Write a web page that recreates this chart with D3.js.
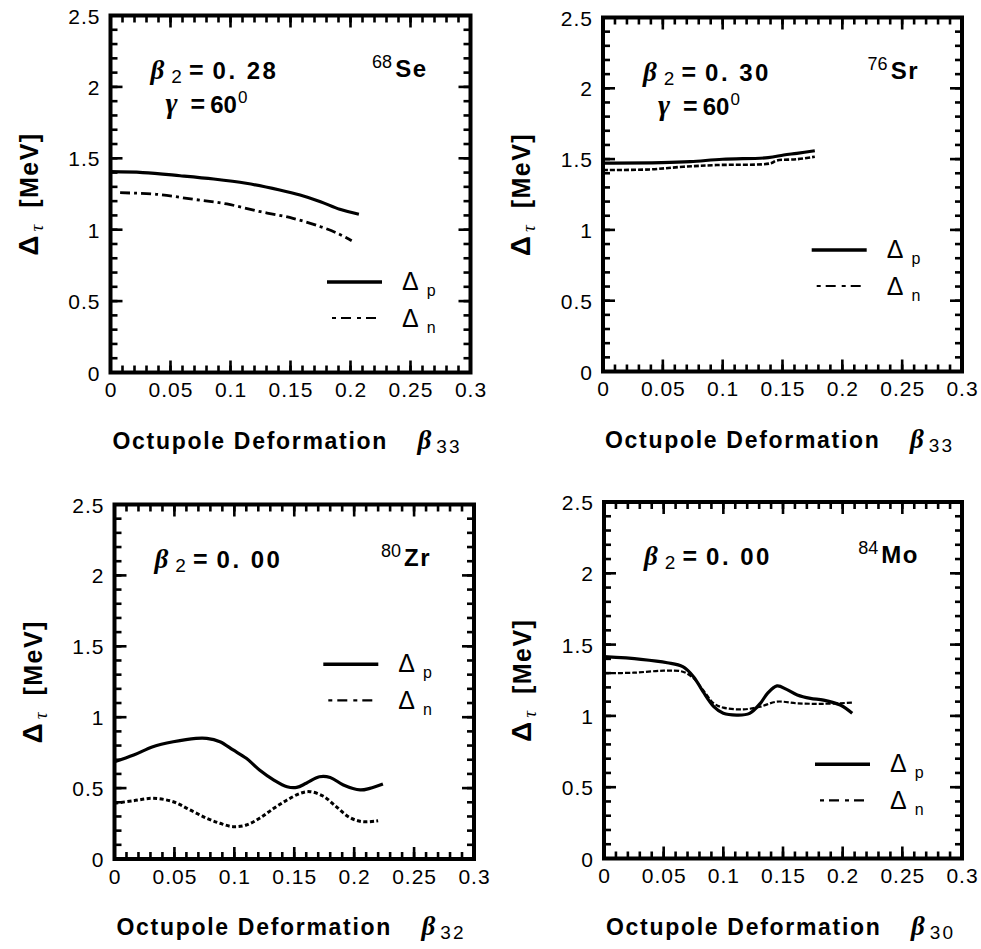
<!DOCTYPE html>
<html>
<head>
<meta charset="utf-8">
<script src="https://cdn.jsdelivr.net/npm/d3@7"></script>
<style>
  html, body { margin: 0; padding: 0; background: #fff; }
  svg { display: block; }
</style>
</head>
<body>
<svg id="chart" width="981" height="949"></svg>
<script>
// Axis ticks and labels shared by all four panels
const xMajorTicks = [0, 0.05, 0.1, 0.15, 0.2, 0.25, 0.3];
const xTickLabels = ["0", "0.05", "0.1", "0.15", "0.2", "0.25", "0.3"];
const yMajorTicks = [0, 0.5, 1, 1.5, 2, 2.5];
const yTickLabels = ["0", "0.5", "1", "1.5", "2", "2.5"];
const xMinorTicks = d3.range(0, 31).map(i => i / 100);
const yMinorTicks = d3.range(0, 26).map(i => i / 10);

// Panel annotations
const massNumbers = ["68", "76", "80", "84"];
const nuclei = ["Se", "Sr", "Zr", "Mo"];
const beta2Values = ["0. 28", "0. 30", "0. 00", "0. 00"];
const gammaValues = ["60", "60", null, null];
const octupoleIndices = ["33", "33", "32", "30"];

// Pairing gaps [beta, MeV] — 68Se
const se68Proton = [[0, 1.406], [0.027, 1.400], [0.058, 1.378], [0.086, 1.355], [0.113, 1.325],
  [0.141, 1.278], [0.158, 1.243], [0.175, 1.196], [0.191, 1.143], [0.207, 1.108]];
const se68Neutron = [[0.008, 1.259], [0.038, 1.248], [0.069, 1.213], [0.097, 1.180], [0.125, 1.126],
  [0.152, 1.080], [0.175, 1.021], [0.189, 0.975], [0.201, 0.923]];

// 76Sr
const sr76Proton = [[0, 1.472], [0.049, 1.475], [0.073, 1.482], [0.100, 1.499], [0.138, 1.510],
  [0.151, 1.529], [0.162, 1.541], [0.177, 1.559]];
const sr76Neutron = [[0, 1.423], [0.039, 1.427], [0.067, 1.446], [0.095, 1.458], [0.140, 1.470],
  [0.145, 1.490], [0.162, 1.499], [0.177, 1.517]];

// 80Zr
const zr80Proton = [[0, 0.686], [0.016, 0.733], [0.032, 0.792], [0.049, 0.827], [0.068, 0.851],
  [0.077, 0.851], [0.088, 0.827], [0.099, 0.769], [0.110, 0.710], [0.121, 0.628], [0.133, 0.557],
  [0.144, 0.510], [0.152, 0.505], [0.160, 0.534], [0.171, 0.580], [0.180, 0.575], [0.191, 0.522],
  [0.205, 0.487], [0.213, 0.498], [0.224, 0.529]];
const zr80Neutron = [[0, 0.393], [0.016, 0.411], [0.032, 0.428], [0.049, 0.404], [0.063, 0.346],
  [0.077, 0.287], [0.088, 0.252], [0.099, 0.228], [0.110, 0.240], [0.121, 0.287], [0.133, 0.358],
  [0.144, 0.416], [0.155, 0.463], [0.163, 0.475], [0.174, 0.444], [0.185, 0.369], [0.196, 0.294],
  [0.207, 0.263], [0.220, 0.270]];

// 84Mo
const mo84Proton = [[0, 1.415], [0.031, 1.397], [0.053, 1.373], [0.066, 1.345], [0.075, 1.275],
  [0.083, 1.170], [0.092, 1.065], [0.100, 1.018], [0.112, 1.006], [0.122, 1.018], [0.131, 1.088],
  [0.137, 1.158], [0.145, 1.210], [0.153, 1.186], [0.162, 1.147], [0.173, 1.123], [0.184, 1.111],
  [0.198, 1.076], [0.208, 1.018]];
const mo84Neutron = [[0, 1.299], [0.025, 1.303], [0.050, 1.317], [0.066, 1.310], [0.075, 1.264],
  [0.083, 1.182], [0.092, 1.088], [0.100, 1.058], [0.117, 1.046], [0.131, 1.065], [0.145, 1.100],
  [0.162, 1.088], [0.184, 1.085], [0.208, 1.093]];

const protonSeries = [se68Proton, sr76Proton, zr80Proton, mo84Proton];
const neutronSeries = [se68Neutron, sr76Neutron, zr80Neutron, mo84Neutron];

// Frame placement of each panel and its legend
const panels = [
  { left: 110.5, top: 15.5, width: 360, height: 357, legendX: 216.5, legendY: 266.5, nDash: "10,4,3,4", nWidth: 2.8 },
  { left: 603, top: 17.5, width: 359, height: 354, legendX: 208.7, legendY: 232.5, nDash: "5,2", nWidth: 2.6 },
  { left: 114.5, top: 504.5, width: 359.5, height: 354.5, legendX: 208.8, legendY: 159.8, nDash: "4,2.5", nWidth: 3 },
  { left: 604, top: 502, width: 358, height: 356.5, legendX: 211, legendY: 262.3, nDash: "5,2", nWidth: 2.2 }
];

const svg = d3.select("#chart");
const SANS = "'Liberation Sans', Arial, sans-serif";
const GREEK = "'Liberation Serif', 'DejaVu Serif', serif";
const TICK = "#000";

panels.forEach((p, i) => {
  const g = svg.append("g").attr("transform", `translate(${p.left},${p.top})`);
  const x = d3.scaleLinear().domain([0, 0.3]).range([0, p.width]);
  const y = d3.scaleLinear().domain([0, 2.5]).range([p.height, 0]);

  // Tick labels
  const xl = d3.axisBottom(x).tickValues(xMajorTicks).tickSize(0)
    .tickFormat((d, k) => xTickLabels[k]);
  const xlg = g.append("g").attr("transform", `translate(0,${p.height})`).call(xl);
  xlg.select(".domain").remove();
  xlg.selectAll("text").attr("font-family", SANS).attr("font-size", 21)
    .attr("letter-spacing", 1).attr("fill", "#000").attr("dy", 0).attr("y", 24.5);

  const yl = d3.axisLeft(y).tickValues(yMajorTicks).tickSize(0)
    .tickFormat((d, k) => yTickLabels[k]);
  const ylg = g.append("g").call(yl);
  ylg.select(".domain").remove();
  ylg.selectAll("text").attr("font-family", SANS).attr("font-size", 21)
    .attr("letter-spacing", 1).attr("fill", "#000").attr("x", -10).attr("dy", "0.36em");

  // Curves
  const line = d3.line().x(d => x(d[0])).y(d => y(d[1])).curve(d3.curveCatmullRom.alpha(0.5));
  g.append("path").datum(protonSeries[i]).attr("d", line)
    .attr("fill", "none").attr("stroke", "#000").attr("stroke-width", 3.2);
  g.append("path").datum(neutronSeries[i]).attr("d", line)
    .attr("fill", "none").attr("stroke", "#000").attr("stroke-width", p.nWidth)
    .attr("stroke-dasharray", p.nDash);

  // Frame
  g.append("rect").attr("width", p.width).attr("height", p.height)
    .attr("fill", "none").attr("stroke", "#000").attr("stroke-width", 4);

  // Inward tick marks on all four sides
  const tg = g.append("g").attr("class", "ticks");
  [[xMinorTicks, 7], [xMajorTicks, 12]].forEach(([vals, len]) => {
    vals.forEach(v => {
      tg.append("line").attr("x1", x(v)).attr("x2", x(v)).attr("y1", p.height).attr("y2", p.height - len)
        .attr("stroke", TICK).attr("stroke-width", 2.6);
      tg.append("line").attr("x1", x(v)).attr("x2", x(v)).attr("y1", 0).attr("y2", len)
        .attr("stroke", TICK).attr("stroke-width", 2.6);
    });
  });
  [[yMinorTicks, 7], [yMajorTicks, 12]].forEach(([vals, len]) => {
    vals.forEach(v => {
      tg.append("line").attr("y1", y(v)).attr("y2", y(v)).attr("x1", 0).attr("x2", len)
        .attr("stroke", TICK).attr("stroke-width", 2.6);
      tg.append("line").attr("y1", y(v)).attr("y2", y(v)).attr("x1", p.width).attr("x2", p.width - len)
        .attr("stroke", TICK).attr("stroke-width", 2.6);
    });
  });

  // Legend
  const lg = g.append("g").attr("transform", `translate(${p.legendX},${p.legendY})`);
  lg.append("line").attr("x1", 0).attr("x2", 55).attr("y1", 0).attr("y2", 0)
    .attr("stroke", "#000").attr("stroke-width", 3.5);
  lg.append("line").attr("x1", 5).attr("x2", 50).attr("y1", 36).attr("y2", 36)
    .attr("stroke", "#000").attr("stroke-width", 2.2).attr("stroke-dasharray", "4,5,10,6");
  [["p", 8], ["n", 45]].forEach(([sub, by]) => {
    const t = lg.append("text").attr("x", 75).attr("y", by)
      .attr("font-family", SANS).attr("fill", "#000");
    t.append("tspan").attr("font-size", 25).text("Δ");
    t.append("tspan").attr("font-size", 16).attr("dx", 8).attr("dy", 6).text(sub);
  });

  // β2 (and γ) annotation
  const ann = g.append("text").attr("x", 40).attr("y", 63)
    .attr("font-family", SANS).attr("font-weight", "bold").attr("fill", "#000")
    .attr("xml:space", "preserve");
  ann.append("tspan").attr("font-family", GREEK).attr("font-style", "italic")
    .attr("font-size", 27).text("β");
  ann.append("tspan").attr("font-size", 19).attr("font-weight", "normal")
    .attr("dx", 7).attr("dy", 4).text("2");
  ann.append("tspan").attr("font-size", 25).attr("dx", 7).attr("dy", -4).text("=");
  ann.append("tspan").attr("font-size", 24).attr("dx", 9).attr("letter-spacing", 2.5).text(beta2Values[i]);

  if (gammaValues[i]) {
    const gm = g.append("text").attr("x", 55).attr("y", 97)
      .attr("font-family", SANS).attr("font-weight", "bold").attr("fill", "#000")
      .attr("xml:space", "preserve");
    gm.append("tspan").attr("font-family", GREEK).attr("font-style", "italic")
      .attr("font-size", 29).text("γ");
    gm.append("tspan").attr("font-size", 25).attr("dx", 13).text("=");
    gm.append("tspan").attr("font-size", 24).attr("dx", 5).text("60");
    gm.append("tspan").attr("font-size", 17).attr("font-weight", "normal")
      .attr("dx", 1).attr("dy", -10).text("0");
  }

  // Nucleus label
  const nuc = g.append("text").attr("x", p.width - 43).attr("y", 61)
    .attr("text-anchor", "end").attr("font-family", SANS).attr("font-weight", "bold")
    .attr("fill", "#000");
  nuc.append("tspan").attr("font-size", 18).attr("font-weight", "normal")
    .attr("dy", -9).text(massNumbers[i]);
  nuc.append("tspan").attr("font-size", 24).attr("dx", 3).attr("dy", 9)
    .attr("letter-spacing", 1.5).text(nuclei[i]);

  // X-axis title
  const xt = g.append("text").attr("x", 2).attr("y", p.height + 76)
    .attr("font-family", SANS).attr("font-weight", "bold").attr("fill", "#000");
  xt.append("tspan").attr("font-size", 23).attr("letter-spacing", 1.7).text("Octupole Deformation");
  const xb = g.append("text").attr("x", 307).attr("y", p.height + 76)
    .attr("font-family", SANS).attr("fill", "#000");
  xb.append("tspan").attr("font-family", GREEK).attr("font-style", "italic")
    .attr("font-weight", "bold").attr("font-size", 27).text("β");
  xb.append("tspan").attr("font-size", 19).attr("dx", 5).attr("dy", 4)
    .attr("letter-spacing", 2).text(octupoleIndices[i]);

  // Y-axis title
  const yt = g.append("text")
    .attr("transform", `translate(${-73},${p.height / 2}) rotate(-90)`)
    .attr("text-anchor", "middle").attr("font-family", SANS).attr("font-weight", "bold")
    .attr("fill", "#000").attr("xml:space", "preserve");
  yt.append("tspan").attr("font-size", 28).text("Δ");
  yt.append("tspan").attr("font-family", GREEK).attr("font-style", "italic")
    .attr("font-weight", "normal").attr("font-size", 19).attr("dx", 4).attr("dy", 5).text("τ");
  yt.append("tspan").attr("font-size", 25).attr("dy", -5).attr("letter-spacing", 1.5).text("  [MeV]");
});
</script>
</body>
</html>
